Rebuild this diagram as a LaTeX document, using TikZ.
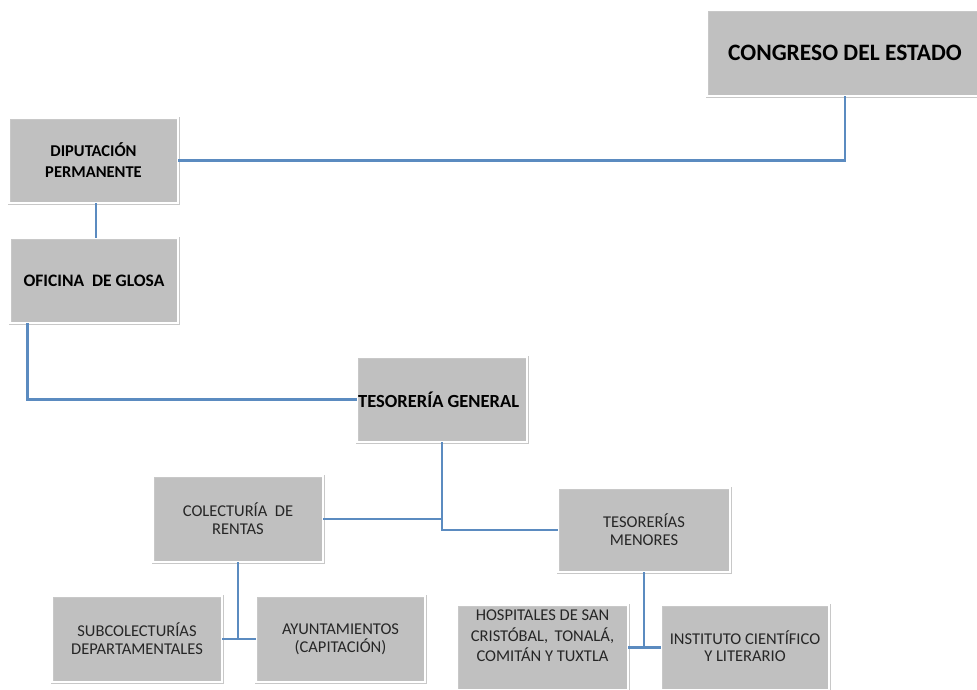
\documentclass[tikz,border=0pt]{standalone}
\usepackage{fontspec}
\setmainfont{Carlito}
\usetikzlibrary{calc}
\definecolor{boxgray}{HTML}{C0C0C0}
\definecolor{edgegray}{HTML}{C8C8C8}
\definecolor{linkblue}{HTML}{5B8BC0}
\tikzset{
  orgbox/.style={rectangle, fill=boxgray, draw=edgegray, line width=0.8pt, double=white, double distance=1.4pt,
    inner sep=2pt, align=center, font=\fontsize{16.5}{18}\selectfont, text=black!85},
  boldbox/.style={orgbox, font=\bfseries\fontsize{16.5}{21}\selectfont, text=black},
  plain/.style={inner sep=0pt, align=center, font=\fontsize{16.5}{18}\selectfont, text=black!85},
  link/.style={draw=linkblue, line width=2.5pt}
}
\begin{document}
\begin{tikzpicture}[x=1pt,y=-1pt]
\clip (0,0) rectangle (977,689);
\fill[white] (0,0) rectangle (977,689);
% boxes
\node[orgbox, minimum width=276pt, minimum height=86pt, font=\bfseries\fontsize{23.5}{26}\selectfont, text=black] (cong) at (845,53) {CONGRESO DEL ESTADO};
\node[boldbox, minimum width=169pt, minimum height=85pt] (dip) at (93.5,160.5) {DIPUTACIÓN\\PERMANENTE};
\node[boldbox, minimum width=168pt, minimum height=85pt, font=\bfseries\fontsize{17.5}{21}\selectfont] (ofi) at (94,280.5) {OFICINA~ DE GLOSA};
\node[orgbox, minimum width=170pt, minimum height=85pt] (tg) at (442,399.5) {};
\node[anchor=west, inner sep=0pt, font=\bfseries\fontsize{18.5}{20}\selectfont] (tgtext) at (358,399.5) {TESORERÍA GENERAL};
\node[orgbox, minimum width=170pt, minimum height=86pt] (col) at (238,519) {COLECTURÍA~ DE\\RENTAS};
\node[orgbox, minimum width=172pt, minimum height=84pt] (tm) at (644,530) {TESORERÍAS\\MENORES};
\node[orgbox, minimum width=170pt, minimum height=86pt] (sub) at (137,639) {SUBCOLECTURÍAS\\DEPARTAMENTALES};
\node[orgbox, minimum width=169pt, minimum height=86pt] (ayu) at (340.5,639) {AYUNTAMIENTOS\\(CAPITACIÓN)};
\node[orgbox, minimum width=171pt, minimum height=85pt] (hos) at (542.5,647.5) {};
\node[plain, font=\fontsize{16.5}{20.5}\selectfont] (hostext) at (542.5,636) {HOSPITALES DE SAN\\CRISTÓBAL,\, TONALÁ,\\COMITÁN Y TUXTLA};
\node[orgbox, minimum width=168pt, minimum height=85pt] (ins) at (745,647.5) {};
\node[plain, font=\fontsize{16.5}{16.5}\selectfont] (instext) at (745,646) {INSTITUTO CIENTÍFICO\\Y LITERARIO};
% connectors
\draw[link] (cong.south) |- (dip.east);
\draw[link] (dip.south -| 96,0) -- (ofi.north -| 96,0);
\draw[link] ($(ofi.south west)+(18,0)$) |- (tg.west);
\draw[link] (tg.south) |- (tm.west);
\draw[link] (col.east) -- (col.east -| tg.south);
\draw[link] (sub.east) -- (ayu.west);
\draw[link] (col.south) -- (col.south |- sub.east);
\draw[link] (hos.east) -- (ins.west);
\draw[link] (tm.south) -- (tm.south |- ins.west);
\end{tikzpicture}
\end{document}
